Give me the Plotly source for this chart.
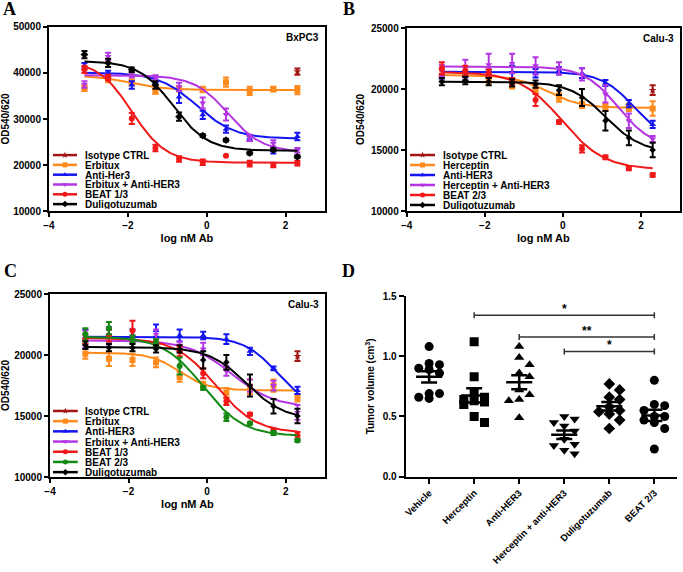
import numpy as np
import plotly.graph_objects as go

# log10 nM antibody (4-fold dilutions from 200 nM)
log_dose = [-3.10, -2.50, -1.90, -1.30, -0.70, -0.10, 0.49, 1.09, 1.69, 2.30]
iso_dose = [2.30]

# ---- A: BxPC3 ----
a_iso = [40300]
a_iso_sem = [700]
a_erb = [36700, 38600, 38000, 36000, 36600, 36400, 38000, 36100, 36500, 36300]
a_erb_sem = [600, 600, 600, 500, 600, 600, 1000, 900, 500, 900]
a_her3 = [41500, 40000, 37400, 38400, 34800, 30900, 27800, 25800, 23200, 26200]
a_her3_sem = [700, 500, 800, 600, 1300, 900, 800, 600, 700, 800]
a_combo = [37500, 43600, 39600, 39000, 37000, 33500, 31000, 25900, 24700, 23200]
a_combo_sem = [700, 800, 600, 500, 900, 1200, 1300, 700, 700, 500]
a_beat13 = [40800, 39000, 30100, 23700, 21300, 20600, 22000, 20300, 20000, 20400]
a_beat13_sem = [800, 600, 1200, 700, 600, 600, 0, 600, 500, 500]
a_dulig = [44000, 42200, 40700, 37400, 30500, 26400, 25400, 22600, 23300, 21800]
a_dulig_sem = [800, 900, 500, 800, 900, 300, 300, 300, 300, 300]
# fit parameters: top, bottom, logEC50, hill
a_erb_fit = [39400, 36300, -1.9, 1.0]
a_her3_fit = [40100, 25700, -0.25, 0.9]
a_combo_fit = [39500, 22800, 0.55, 1.0]
a_beat13_fit = [42800, 20500, -1.9, 1.0]
a_dulig_fit = [42600, 23100, -0.85, 1.0]

# ---- B: Calu-3 (Herceptin) ----
b_iso = [19900]
b_iso_sem = [400]
b_herc = [21100, 21100, 20700, 20300, 20000, 19300, 18700, 18500, 18500, 18400]
b_herc_sem = [400, 400, 300, 250, 300, 350, 250, 300, 300, 600]
b_her3 = [20900, 21000, 21300, 21400, 21300, 21500, 21300, 20500, 18800, 17100]
b_her3_sem = [300, 300, 300, 500, 350, 300, 400, 250, 300, 300]
b_combo = [21500, 21700, 22000, 22100, 21900, 21700, 21200, 19600, 17400, 15900]
b_combo_sem = [500, 700, 900, 800, 700, 500, 500, 700, 600, 250]
b_beat23 = [21700, 21500, 21300, 20600, 19100, 17300, 15100, 14400, 13500, 12950]
b_beat23_sem = [500, 400, 300, 300, 500, 150, 300, 150, 150, 150]
b_dulig = [20600, 20700, 20600, 20500, 20400, 19900, 19300, 17400, 16000, 15000]
b_dulig_sem = [300, 300, 300, 300, 300, 400, 700, 800, 600, 600]
b_herc_fit = [21150, 18450, -0.4, 1.0]
b_her3_fit = [21420, 15500, 1.85, 1.0]
b_combo_fit = [21850, 15200, 1.41, 1.0]
b_beat23_fit = [21400, 13400, -0.02, 0.8]
b_dulig_fit = [20600, 14800, 1.1, 0.95]

# ---- C: Calu-3 (Erbitux) ----
c_iso = [19900]
c_iso_sem = [400]
c_erb = [20100, 19700, 19600, 19400, 18200, 17500, 16900, 17400, 17500, 16500]
c_erb_sem = [400, 600, 500, 400, 400, 300, 400, 600, 500, 300]
c_her3 = [21500, 21600, 21600, 22000, 21600, 21600, 21300, 20300, 18900, 17100]
c_her3_sem = [600, 500, 500, 500, 500, 300, 400, 300, 150, 300]
c_combo = [21300, 21500, 21100, 21700, 20800, 20500, 18700, 17500, 17500, 15300]
c_combo_sem = [700, 800, 500, 400, 300, 500, 400, 500, 400, 600]
c_beat13 = [21300, 21600, 22000, 21000, 20300, 18500, 16200, 15150, 13800, 13400]
c_beat13_sem = [400, 500, 800, 300, 400, 400, 300, 100, 150, 300]
c_beat23 = [21700, 22200, 21300, 21000, 19100, 17300, 14900, 14400, 13600, 13000]
c_beat23_sem = [500, 500, 300, 300, 700, 150, 300, 100, 150, 100]
c_dulig = [20800, 20600, 20600, 20500, 20500, 19600, 19400, 17500, 15800, 15000]
c_dulig_sem = [300, 300, 300, 300, 300, 700, 600, 900, 600, 600]
c_erb_fit = [20200, 17100, -0.7, 1.15]
c_her3_fit = [21500, 15500, 1.8, 1.0]
c_combo_fit = [21200, 15700, 0.63, 0.8]
c_beat13_fit = [21400, 13600, 0.22, 0.85]
c_beat23_fit = [21500, 13350, -0.1, 0.85]
c_dulig_fit = [20650, 14700, 1.0, 0.9]

# ---- D: tumor volume (cm3) ----
groups = ["Vehicle", "Herceptin", "Anti-HER3", "Herceptin + anti-HER3", "Duligotuzumab", "BEAT 2/3"]
vol_vehicle = [1.08, 0.94, 0.93, 0.90, 0.89, 0.86, 0.69, 0.69, 0.66, 0.65]
vol_herceptin = [1.12, 0.83, 0.70, 0.66, 0.64, 0.63, 0.62, 0.60, 0.50, 0.45]
vol_antiher3 = [1.08, 0.99, 0.93, 0.86, 0.83, 0.72, 0.68, 0.64, 0.63, 0.49]
vol_combo = [0.50, 0.48, 0.45, 0.42, 0.38, 0.31, 0.27, 0.26, 0.22, 0.19]
vol_dulig = [0.77, 0.72, 0.66, 0.64, 0.58, 0.55, 0.54, 0.52, 0.47, 0.40]
vol_beat23 = [0.80, 0.60, 0.59, 0.55, 0.50, 0.50, 0.47, 0.45, 0.40, 0.23]
sig_from = [1, 2, 3]
sig_to = [5, 5, 5]
sig_y = [1.34, 1.16, 1.04]
sig_text = ["*", "**", "*"]

ISO = "#A31515"
ORANGE = "#FF8A1C"
BLUE = "#1414F0"
PURPLE = "#B436E3"
RED = "#F01818"
GREEN = "#138A13"
BLACK = "#000000"
FONT = "Liberation Sans, Arial, sans-serif"

XR = [-4, 3]


def logistic(x, p):
    top, bottom, ec50, hill = p
    return bottom + (top - bottom) / (1 + 10 ** ((x - ec50) * hill))


fig = go.Figure()


def add_series(n, xs, ys, err, fit, color, symbol, msize=6):
    xa, ya = ("x", "y") if n == 1 else (f"x{n}", f"y{n}")
    if fit is not None:
        xx = np.linspace(min(xs), max(xs), 200)
        fig.add_trace(go.Scatter(x=xx, y=logistic(xx, fit), mode="lines",
                                 line=dict(color=color, width=2), xaxis=xa, yaxis=ya,
                                 hoverinfo="skip"))
    fig.add_trace(go.Scatter(x=xs, y=ys, mode="markers", xaxis=xa, yaxis=ya,
                             marker=dict(color=color, symbol=symbol, size=msize),
                             error_y=dict(type="data", array=err, color=color,
                                          thickness=2, width=3)))


panels = {
    1: [("Isotype CTRL", iso_dose, a_iso, a_iso_sem, None, ISO, "star"),
        ("Erbitux", log_dose, a_erb, a_erb_sem, a_erb_fit, ORANGE, "square"),
        ("Anti-Her3", log_dose, a_her3, a_her3_sem, a_her3_fit, BLUE, "triangle-up"),
        ("Erbitux + Anti-HER3", log_dose, a_combo, a_combo_sem, a_combo_fit, PURPLE, "triangle-down"),
        ("BEAT 1/3", log_dose, a_beat13, a_beat13_sem, a_beat13_fit, RED, "circle"),
        ("Duligotuzumab", log_dose, a_dulig, a_dulig_sem, a_dulig_fit, BLACK, "diamond")],
    2: [("Isotype CTRL", iso_dose, b_iso, b_iso_sem, None, ISO, "star"),
        ("Herceptin", log_dose, b_herc, b_herc_sem, b_herc_fit, ORANGE, "square"),
        ("Anti-HER3", log_dose, b_her3, b_her3_sem, b_her3_fit, BLUE, "triangle-up"),
        ("Herceptin + Anti-HER3", log_dose, b_combo, b_combo_sem, b_combo_fit, PURPLE, "triangle-down"),
        ("BEAT 2/3", log_dose, b_beat23, b_beat23_sem, b_beat23_fit, RED, "circle"),
        ("Duligotuzumab", log_dose, b_dulig, b_dulig_sem, b_dulig_fit, BLACK, "diamond")],
    3: [("Isotype CTRL", iso_dose, c_iso, c_iso_sem, None, ISO, "star"),
        ("Erbitux", log_dose, c_erb, c_erb_sem, c_erb_fit, ORANGE, "square"),
        ("Anti-HER3", log_dose, c_her3, c_her3_sem, c_her3_fit, BLUE, "triangle-up"),
        ("Erbitux + Anti-HER3", log_dose, c_combo, c_combo_sem, c_combo_fit, PURPLE, "triangle-down"),
        ("BEAT 1/3", log_dose, c_beat13, c_beat13_sem, c_beat13_fit, RED, "circle"),
        ("BEAT 2/3", log_dose, c_beat23, c_beat23_sem, c_beat23_fit, GREEN, "circle"),
        ("Duligotuzumab", log_dose, c_dulig, c_dulig_sem, c_dulig_fit, BLACK, "diamond")],
}
yranges = {1: [10000, 50000], 2: [10000, 25000], 3: [10000, 25000]}
ytickv = {1: [10000, 20000, 30000, 40000, 50000], 2: [10000, 15000, 20000, 25000],
          3: [10000, 15000, 20000, 25000]}
xdoms = {1: [0.0717, 0.4758], 2: [0.5955, 0.9956], 3: [0.0732, 0.4758]}
ydoms = {1: [0.6311, 0.9528], 2: [0.6311, 0.951], 3: [0.166, 0.486]}
cell = {1: "BxPC3", 2: "Calu-3", 3: "Calu-3"}
# legend geometry in axis-domain fractions: line x0, marker x, line x1, text x, first row y, row step
leg = {1: (0.0145, 0.058, 0.1015, 0.123, 0.304, 0.0533),
       2: (0.012, 0.058, 0.1035, 0.1255, 0.306, 0.0546),
       3: (0.011, 0.056, 0.101, 0.12, 0.361, 0.0557)}

shapes, annos = [], []
for n, series in panels.items():
    for name, xs, ys, err, fit, color, sym in series:
        ms = 5 if (n > 1 and sym == "diamond") else 6
        add_series(n, xs, ys, err, fit, color, sym, ms)
    # in-plot legend
    x0, xm, x1, xt, y0, step = leg[n]
    sfx = "" if n == 1 else str(n)
    yr = yranges[n]
    for i, (name, xs, ys, err, fit, color, sym) in enumerate(series):
        yy = y0 - i * step
        shapes.append(dict(type="line", xref=f"x{sfx} domain", yref=f"y{sfx} domain",
                           x0=x0, x1=x1, y0=yy, y1=yy, line=dict(color=color, width=2.5)))
        fig.add_trace(go.Scatter(x=[XR[0] + xm * (XR[1] - XR[0])],
                                 y=[yr[0] + yy * (yr[1] - yr[0])], mode="markers",
                                 marker=dict(color=color, symbol=sym, size=5),
                                 xaxis=f"x{sfx}", yaxis=f"y{sfx}", hoverinfo="skip"))
        annos.append(dict(xref=f"x{sfx} domain", yref=f"y{sfx} domain", x=xt, y=yy,
                          text=f"<b>{name}</b>", showarrow=False, xanchor="left",
                          yanchor="middle", height=10,
                          font=dict(size=10, family=FONT, color="black")))
    annos.append(dict(xref=f"x{sfx} domain", yref=f"y{sfx} domain", x=0.985, y=0.945,
                      text=f"<b>{cell[n]}</b>", showarrow=False, xanchor="right",
                      yanchor="middle", font=dict(size=10, family=FONT, color="black")))

axis_common = dict(showgrid=False, zeroline=False, showline=True, linecolor="black",
                   linewidth=2, ticks="outside", ticklen=4, tickwidth=2, tickcolor="black",
                   automargin=False,
                   tickfont=dict(size=10, family=FONT, color="black", weight="bold"))
layout = {}
for n in panels:
    sfx = "" if n == 1 else str(n)
    layout[f"xaxis{sfx}"] = dict(axis_common, domain=xdoms[n], range=XR, tickvals=[-4, -2, 0, 2],
                                 mirror=True, anchor=f"y{sfx}",
                                 title=dict(text="<b>log nM Ab</b>", standoff=4,
                                            font=dict(size=11, family=FONT, color="black")))
    layout[f"yaxis{sfx}"] = dict(axis_common, domain=ydoms[n], range=yranges[n],
                                 tickvals=ytickv[n], tickformat="d", mirror=True,
                                 anchor=f"x{sfx}",
                                 title=dict(text="<b>OD540/620</b>", standoff=4,
                                            font=dict(size=10, family=FONT, color="black")))

# ---- panel D ----
vols = [vol_vehicle, vol_herceptin, vol_antiher3, vol_combo, vol_dulig, vol_beat23]
vsyms = ["circle", "square", "triangle-up", "triangle-down", "diamond", "circle"]


def swarm(vals, step=0.23, xpx=45.0, ypx=120.5):
    # three-column dot arrangement: take the slot farthest from points already placed
    vals = np.asarray(vals)
    offs = np.zeros(len(vals))
    placed = []
    for i in np.argsort(-vals):
        best, bestd = 0.0, -1.0
        for k in [0, 1, -1]:
            dx = k * step
            d = min([np.hypot((dx - px) * xpx, (vals[i] - py) * ypx) for px, py in placed],
                    default=99.0)
            if d >= 9.0:
                best = dx
                break
            if d > bestd + 0.5:
                best, bestd = dx, d
        offs[i] = best
        placed.append((best, vals[i]))
    return offs


for g, (v, sym) in enumerate(zip(vols, vsyms)):
    offs = swarm(v)
    fig.add_trace(go.Scatter(x=g + offs, y=v, mode="markers", xaxis="x4", yaxis="y4",
                             marker=dict(color="black", symbol=sym, size=9)))
    m = float(np.mean(v))
    sem = float(np.std(v, ddof=1) / np.sqrt(len(v)))
    fig.add_trace(go.Scatter(x=[g - 0.29, g + 0.29], y=[m, m], mode="lines", xaxis="x4",
                             yaxis="y4", line=dict(color="black", width=2.5)))
    fig.add_trace(go.Scatter(x=[g], y=[m], mode="markers", xaxis="x4", yaxis="y4",
                             marker=dict(size=1, opacity=0),
                             error_y=dict(type="data", array=[sem], color="black",
                                          thickness=2.5, width=8)))

for a, b, y, t in zip(sig_from, sig_to, sig_y, sig_text):
    col = "#333333"
    shapes.append(dict(type="line", xref="x4", yref="y4", x0=a, x1=b, y0=y, y1=y,
                       line=dict(color=col, width=1.5)))
    for xe in (a, b):
        shapes.append(dict(type="line", xref="x4", yref="y4", x0=xe, x1=xe,
                           y0=y - 0.025, y1=y + 0.025, line=dict(color=col, width=1.5)))
    annos.append(dict(xref="x4", yref="y4", x=(a + b) / 2, y=y, text=f"<b>{t}</b>",
                      showarrow=False, yanchor="bottom", yshift=-3,
                      font=dict(size=12, family=FONT, color="black")))

layout["xaxis4"] = dict(axis_common, domain=[0.594, 0.991], range=[-0.52, 5.5],
                        tickvals=list(range(len(groups))), ticktext=groups, tickangle=-45,
                        ticklen=5, anchor="y4",
                        tickfont=dict(size=9.5, family=FONT, color="black", weight="bold"))
layout["yaxis4"] = dict(axis_common, domain=[0.1666, 0.4825], range=[0, 1.5],
                        tickvals=[0, 0.5, 1.0, 1.5], tickformat=".1f", ticklen=5, anchor="x4",
                        title=dict(text="<b>Tumor volume (cm<sup>3</sup>)</b>", standoff=6,
                                   font=dict(size=10, family=FONT, color="black")))

# panel letters
for letter, px, py in [("A", 9, 9), ("B", 349, 9), ("C", 10, 271), ("D", 348, 271)]:
    annos.append(dict(xref="paper", yref="paper", x=px / 683, y=1 - py / 572,
                      text=f"<b>{letter}</b>", showarrow=False, xanchor="center",
                      yanchor="middle",
                      font=dict(size=18, family="Liberation Serif, Times New Roman, serif",
                                color="black")))

fig.update_layout(width=683, height=572, margin=dict(l=0, r=0, t=0, b=0),
                  plot_bgcolor="white", paper_bgcolor="white", showlegend=False,
                  font=dict(family=FONT, color="black"), shapes=shapes, annotations=annos,
                  **layout)
fig.write_html("out.html", config={"displayModeBar": False},
               post_script="document.body.style.margin='0';document.body.style.overflow='hidden';")
